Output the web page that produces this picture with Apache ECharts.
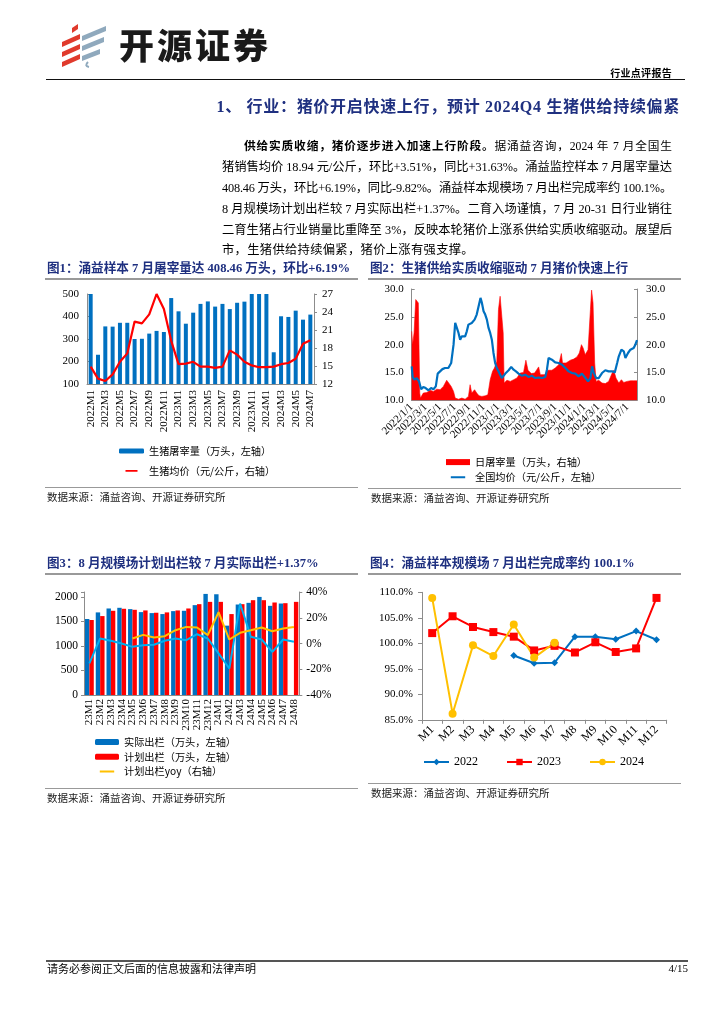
<!DOCTYPE html>
<html><head><meta charset="utf-8">
<script src="https://cdn.jsdelivr.net/npm/echarts@6/dist/echarts.min.js"></script>
<style>
body{margin:0;background:#fff;}
#page{position:relative;width:724px;height:1024px;overflow:hidden;background:#fff;font-family:"Liberation Serif","Noto Sans CJK SC",serif;color:#000;}
#chart{position:absolute;left:0;top:0;width:724px;height:1024px;}
.abs{position:absolute;white-space:nowrap;}
.hl{position:absolute;height:0;}
.ttl{position:absolute;font-size:12.6px;font-weight:bold;color:#1f3080;line-height:16px;white-space:nowrap;font-family:"Liberation Serif","Noto Sans CJK SC",serif;}
.src{position:absolute;font-size:10.5px;line-height:12px;white-space:nowrap;font-family:"Noto Sans CJK SC",sans-serif;color:#222;}
.pl{position:absolute;font-size:12.3px;line-height:20px;white-space:nowrap;font-family:"Liberation Serif","Noto Sans CJK SC",serif;}
.pl > span{display:inline-block;white-space:nowrap;}
.pj{position:absolute;font-size:11.7px;line-height:20px;white-space:nowrap;text-align:justify;text-align-last:justify;font-family:"Liberation Serif","Noto Sans CJK SC",serif;}
</style></head>
<body><div id="page">
<div id="chart"></div>
<svg class="abs" style="left:58px;top:22px" width="56" height="46" viewBox="0 0 56 46">
 <polygon points="4,20 22,12 22,17 4,25" fill="#e03a2c"/>
 <polygon points="4,30 22,22 22,27 4,35" fill="#e03a2c"/>
 <polygon points="4,40 22,32 22,37 4,45" fill="#e03a2c"/>
 <polygon points="14,6 20,2 20,7 14,11" fill="#e03a2c"/>
 <polygon points="24,14 48,4 48,9 24,19" fill="#8fa9bd"/>
 <polygon points="24,24 46,15 46,20 24,29" fill="#8fa9bd"/>
 <polygon points="24,34 42,27 42,32 24,39" fill="#8fa9bd"/>
 <path d="M30,40 Q26,44 31,45" stroke="#8fa9bd" stroke-width="2" fill="none"/>
</svg>
<div class="abs" style="left:119px;top:22px;font-size:35px;font-weight:900;letter-spacing:3px;font-family:'Noto Sans CJK SC',sans-serif;color:#1a1a1a;line-height:44px;">开源证券</div>
<div class="abs" style="right:52px;top:66px;font-size:10px;letter-spacing:0.3px;font-weight:bold;font-family:'Noto Sans CJK SC',sans-serif;line-height:13px;">行业点评报告</div>
<div class="hl" style="left:46px;top:79px;width:639px;border-top:1.6px solid #111;"></div>
<div class="abs" style="right:44px;top:97px;font-size:16px;letter-spacing:0.7px;font-weight:bold;color:#1f3080;line-height:20px;font-family:'Liberation Serif','Noto Sans CJK SC',serif;">1、 行业：猪价开启快速上行，预计 2024Q4 生猪供给持续偏紧</div>

<div class="pj" style="left:244px;top:137px;width:428px;"><b>供给实质收缩，猪价逐步进入加速上行阶段。</b>据涌益咨询，2024 年 7 月全国生</div>
<div class="pl" data-w="450" style="left:222px;top:157px;"><span>猪销售均价 18.94 元/公斤，环比+3.51%，同比+31.63%。涌益监控样本 7 月屠宰量达</span></div>
<div class="pl" data-w="450" style="left:222px;top:178px;"><span>408.46 万头，环比+6.19%，同比-9.82%。涌益样本规模场 7 月出栏完成率约 100.1%。</span></div>
<div class="pl" data-w="450" style="left:222px;top:199px;"><span>8 月规模场计划出栏较 7 月实际出栏+1.37%。二育入场谨慎，7 月 20-31 日行业销往</span></div>
<div class="pl" data-w="450" style="left:222px;top:220px;"><span>二育生猪占行业销量比重降至 3%，反映本轮猪价上涨系供给实质收缩驱动。展望后</span></div>
<div class="pl" style="left:222px;top:240px;"><span style="letter-spacing:0.3px">市，生猪供给持续偏紧，猪价上涨有强支撑。</span></div>

<div class="ttl" style="left:47px;top:260px;">图1：涌益样本 7 月屠宰量达 408.46 万头，环比+6.19%</div>
<div class="hl" style="left:45px;top:278px;width:313px;border-top:2px solid #999;"></div>
<div class="ttl" style="left:370px;top:260px;">图2：生猪供给实质收缩驱动 7 月猪价快速上行</div>
<div class="hl" style="left:368px;top:278px;width:313px;border-top:2px solid #999;"></div>
<div class="hl" style="left:45px;top:487px;width:313px;border-top:1.5px solid #999;"></div>
<div class="src" style="left:47px;top:491px;">数据来源：涌益咨询、开源证券研究所</div>
<div class="hl" style="left:368px;top:488px;width:313px;border-top:1.5px solid #999;"></div>
<div class="src" style="left:371px;top:492px;">数据来源：涌益咨询、开源证券研究所</div>

<div class="ttl" style="left:47px;top:555px;">图3：8 月规模场计划出栏较 7 月实际出栏+1.37%</div>
<div class="hl" style="left:45px;top:573px;width:313px;border-top:2px solid #999;"></div>
<div class="ttl" style="left:370px;top:555px;">图4：涌益样本规模场 7 月出栏完成率约 100.1%</div>
<div class="hl" style="left:368px;top:573px;width:313px;border-top:2px solid #999;"></div>
<div class="hl" style="left:45px;top:788px;width:313px;border-top:1.5px solid #999;"></div>
<div class="src" style="left:47px;top:792px;">数据来源：涌益咨询、开源证券研究所</div>
<div class="hl" style="left:368px;top:783px;width:313px;border-top:1.5px solid #999;"></div>
<div class="src" style="left:371px;top:787px;">数据来源：涌益咨询、开源证券研究所</div>

<div class="hl" style="left:46px;top:960px;width:642px;border-top:2px solid #555;"></div>
<div class="src" style="left:47px;top:962px;font-size:11px;color:#000;">请务必参阅正文后面的信息披露和法律声明</div>
<div class="src" style="right:36px;top:962px;font-size:11px;color:#000;font-family:'Liberation Serif',serif;">4/15</div>
</div>
<script>
// ---------- Chart 1 data ----------
const c1Months = ['2022M1','2022M2','2022M3','2022M4','2022M5','2022M6','2022M7','2022M8','2022M9','2022M10','2022M11','2022M12',
  '2023M1','2023M2','2023M3','2023M4','2023M5','2023M6','2023M7','2023M8','2023M9','2023M10','2023M11','2023M12',
  '2024M1','2024M2','2024M3','2024M4','2024M5','2024M6','2024M7'];
const c1Slaughter = [500,230,356,355,372,372,300,301,324,336,331,482,423,368,417,456,467,444,456,433,461,466,500,500,500,241,401,398,426,386,408.46];
const c1Price = [14.9,12.9,12.5,13.6,15.7,17.1,22.4,22.1,23.6,27.0,24.5,19.2,15.3,15.4,15.7,14.9,14.9,14.7,14.9,17.6,16.9,15.7,15.1,14.8,14.8,14.9,15.3,15.5,16.2,18.7,19.3];

// ---------- Chart 2 data ----------
const c2TickDates = ['2022-01-01','2022-03-01','2022-05-01','2022-07-01','2022-09-01','2022-11-01','2023-01-01','2023-03-01',
  '2023-05-01','2023-07-01','2023-09-01','2023-11-01','2024-01-01','2024-03-01','2024-05-01','2024-07-01'];
const c2Slaughter = [
 ['2022-01-01',22.4],['2022-01-05',20.0],['2022-01-11',22.1],['2022-01-18',28.1],['2022-01-25',28.2],['2022-01-29',27.5],
 ['2022-02-04',11.3],['2022-02-07',10.4],['2022-02-19',11.3],['2022-03-06',11.4],['2022-03-20',11.8],['2022-04-03',11.6],
 ['2022-04-17',12.0],['2022-05-01',11.9],['2022-05-15',12.5],['2022-05-29',13.6],['2022-06-05',13.8],['2022-06-17',12.5],
 ['2022-06-27',11.6],['2022-07-04',10.4],['2022-07-18',10.2],['2022-08-01',10.4],['2022-08-15',10.2],['2022-08-29',10.7],
 ['2022-09-05',12.8],['2022-09-12',11.3],['2022-09-24',11.9],['2022-10-03',11.3],['2022-10-13',10.8],['2022-10-25',10.7],
 ['2022-11-08',10.8],['2022-11-19',11.0],['2022-11-29',13.7],['2022-12-09',15.2],['2022-12-17',15.8],['2022-12-27',17.0],
 ['2023-01-03',26.3],['2023-01-10',28.7],['2023-01-17',28.4],['2023-01-23',22.1],['2023-01-27',13.1],['2023-02-08',13.6],
 ['2023-02-22',13.4],['2023-03-08',13.7],['2023-03-22',14.0],['2023-04-05',14.9],['2023-04-19',15.0],['2023-04-29',17.2],
 ['2023-05-08',15.4],['2023-05-22',14.8],['2023-06-05',14.9],['2023-06-22',16.0],['2023-06-29',14.6],['2023-07-17',14.6],
 ['2023-07-31',15.4],['2023-08-17',15.4],['2023-08-31',15.8],['2023-09-15',16.4],['2023-09-26',18.4],['2023-10-01',16.7],
 ['2023-10-16',16.7],['2023-11-03',17.2],['2023-11-17',17.4],['2023-12-01',17.8],['2023-12-11',18.5],['2023-12-20',20.0],
 ['2023-12-27',19.4],['2024-01-05',18.2],['2024-01-17',19.1],['2024-01-27',26.3],['2024-02-01',29.8],['2024-02-07',27.5],
 ['2024-02-14',16.7],['2024-02-20',13.4],['2024-03-02',13.6],['2024-03-16',13.1],['2024-03-30',13.0],['2024-04-13',13.4],
 ['2024-04-28',14.9],['2024-05-05',15.4],['2024-05-14',14.0],['2024-05-26',13.1],['2024-06-06',13.7],['2024-06-16',13.2],
 ['2024-06-30',13.4],['2024-07-14',13.5],['2024-07-28',13.5],['2024-08-11',13.5]
];
const c2Price = [
 ['2022-01-01',16.1],['2022-01-05',14.2],['2022-01-12',13.7],['2022-01-22',14.0],['2022-02-01',13.4],['2022-02-10',12.0],
 ['2022-02-19',12.4],['2022-03-01',12.2],['2022-03-13',11.8],['2022-03-24',12.2],['2022-04-03',12.0],['2022-04-13',12.5],
 ['2022-04-21',14.8],['2022-05-01',15.2],['2022-05-11',15.6],['2022-05-22',15.8],['2022-06-05',15.8],['2022-06-17',16.7],
 ['2022-06-27',20.0],['2022-07-04',23.9],['2022-07-11',23.0],['2022-07-18',22.1],['2022-07-25',20.9],['2022-08-01',21.5],
 ['2022-08-08',21.2],['2022-08-15',21.5],['2022-08-22',22.4],['2022-08-29',23.6],['2022-09-05',23.4],['2022-09-12',23.9],
 ['2022-09-24',24.5],['2022-10-03',25.4],['2022-10-11',26.9],['2022-10-19',28.4],['2022-10-25',27.5],['2022-11-01',26.0],
 ['2022-11-08',25.4],['2022-11-15',24.5],['2022-11-22',23.0],['2022-11-29',22.1],['2022-12-06',20.9],['2022-12-13',18.5],
 ['2022-12-20',16.7],['2022-12-27',15.8],['2023-01-03',15.2],['2023-01-10',14.9],['2023-01-17',14.0],['2023-01-24',14.3],
 ['2023-02-01',14.8],['2023-02-08',14.6],['2023-02-15',15.4],['2023-02-26',16.0],['2023-03-08',15.5],['2023-03-18',15.2],
 ['2023-03-29',14.8],['2023-04-12',14.4],['2023-04-26',14.6],['2023-05-10',14.2],['2023-05-25',14.4],['2023-06-08',14.0],
 ['2023-06-22',14.1],['2023-07-06',14.0],['2023-07-20',14.2],['2023-07-27',15.5],['2023-08-03',17.6],['2023-08-17',17.3],
 ['2023-08-31',16.8],['2023-09-15',16.7],['2023-09-29',16.4],['2023-10-13',15.8],['2023-10-27',15.2],['2023-11-10',14.9],
 ['2023-11-24',14.8],['2023-12-08',14.3],['2023-12-22',14.8],['2024-01-06',14.0],['2024-01-17',13.4],['2024-01-27',14.0],
 ['2024-02-03',16.1],['2024-02-10',14.9],['2024-02-20',14.0],['2024-03-02',14.0],['2024-03-16',14.9],['2024-03-30',15.4],
 ['2024-04-13',15.2],['2024-04-28',15.2],['2024-05-09',15.0],['2024-05-19',16.7],['2024-05-26',17.9],['2024-06-06',19.1],
 ['2024-06-16',18.8],['2024-06-23',17.6],['2024-07-04',18.5],['2024-07-14',19.1],['2024-07-28',19.4],['2024-08-04',20.0],
 ['2024-08-11',20.8]
];

// ---------- Chart 3 data ----------
const c3Months = ['23M1','23M2','23M3','23M4','23M5','23M6','23M7','23M8','23M9','23M10','23M11','23M12',
  '24M1','24M2','24M3','24M4','24M5','24M6','24M7','24M8'];
const c3Actual = [1549,1684,1764,1778,1751,1690,1670,1650,1710,1717,1832,2061,2054,1414,1845,1879,2000,1818,1865,null];
const c3Plan = [1529,1609,1717,1758,1737,1724,1677,1684,1724,1764,1852,1899,1899,1650,1852,1933,1933,1886,1872,1899];
const c3PlanYoy = [null,null,null,null,3.9,6.7,4.6,5.7,10.3,12.9,12.4,6.5,24.3,3.1,8.3,10.3,12.4,9.5,11.6,12.9];
const c3PlanVsPrev = [-15.5,3.9,2.1,0,-2.6,-1.3,-1.0,2.1,3.9,2.6,7.2,3.9,-7.7,-19.4,31.0,5.2,3.1,-6.5,3.1,1.4];

// ---------- Chart 4 data ----------
const c4Months = ['M1','M2','M3','M4','M5','M6','M7','M8','M9','M10','M11','M12'];
const c4Y2022 = [null,null,null,null,97.6,96.1,96.2,101.3,101.3,100.8,102.4,100.7];
const c4Y2023 = [102.0,105.3,103.2,102.2,101.3,98.6,99.5,98.2,100.2,98.3,99.0,108.9];
const c4Y2024 = [108.9,86.2,99.6,97.5,103.7,97.2,100.1,null,null,null,null,null];

// ---------- paragraph justify (fit each line to its width) ----------
function fitLines() {
  document.querySelectorAll('.pl[data-w]').forEach(el => {
    const sp = el.firstElementChild;
    sp.style.letterSpacing = '0px';
    const w = sp.getBoundingClientRect().width;
    const n = sp.textContent.length;
    const target = parseFloat(el.dataset.w);
    sp.style.letterSpacing = ((target - w) / n) + 'px';
  });
}
fitLines();
if (document.fonts && document.fonts.ready) document.fonts.ready.then(fitLines);
window.addEventListener('load', fitLines);

// ---------- build ----------
const SERIF = "'Liberation Serif','Noto Sans CJK SC',serif";
const CJK = "'Noto Sans CJK SC',sans-serif";
const AX = '#8c8c8c';
const LINE_ICON = 'path://M0,0L0.05,0L0,0.05Z M0,3.2L24,3.2L24,6.8L0,6.8Z M0,10L0.05,10L0,9.95Z';
const toTs = s => echarts.number.parseDate(s).getTime();
const tsPairs = arr => arr.map(p => [toTs(p[0]), p[1]]);
const fmtDate = v => { const d = new Date(v); return d.getFullYear() + '/' + (d.getMonth() + 1) + '/' + d.getDate(); };
const lbl = (size, extra) => Object.assign({color:'#000', fontFamily:SERIF, fontSize:size}, extra || {});
const yLine = {show:true, lineStyle:{color:AX, width:1}};
const c2TickTs = c2TickDates.map(toTs);
const c2LabelsA = c2TickTs.filter((v, i) => i % 2 === 0);
const c2LabelsB = c2TickTs.filter((v, i) => i % 2 === 1);
const c2Min = toTs('2022-01-01'), c2Max = toTs('2024-08-11');
const G2 = {left:411.7, top:289, width:225.3, height:111.3};

const chart = echarts.init(document.getElementById('chart'), null, {renderer:'canvas'});
const option = {
  animation:false,
  backgroundColor:'transparent',
  grid:[
    {left:87, top:294, width:227, height:90},
    G2,
    {left:84, top:592, width:215.3, height:103},
    {left:422, top:592.3, width:244.7, height:127.5},
    Object.assign({}, G2)
  ],
  xAxis:[
    {type:'category', gridIndex:0, data:c1Months, axisLine:{lineStyle:{color:AX}}, axisTick:{show:false},
      axisLabel:lbl(11, {rotate:90, interval:1, margin:6})},
    {type:'value', gridIndex:1, min:c2Min, max:c2Max, splitLine:{show:false},
      axisLine:{lineStyle:{color:AX}},
      axisTick:{show:true, inside:true, length:3, lineStyle:{color:AX}, customValues:c2TickTs},
      axisLabel:lbl(11, {rotate:45, margin:5, customValues:c2LabelsA, formatter:fmtDate, hideOverlap:false,
        showMinLabel:true, showMaxLabel:true})},
    {type:'category', gridIndex:2, data:c3Months, axisLine:{lineStyle:{color:AX}}, axisTick:{show:false},
      axisLabel:lbl(11, {rotate:90, interval:0, margin:4})},
    {type:'category', gridIndex:3, data:c4Months, axisLine:{lineStyle:{color:AX}},
      axisTick:{show:true, length:4, lineStyle:{color:AX}},
      axisLabel:lbl(12, {rotate:45, interval:0, margin:8})},
    {type:'value', gridIndex:4, min:c2Min, max:c2Max, splitLine:{show:false},
      axisLine:{show:false}, axisTick:{show:false},
      axisLabel:lbl(11, {rotate:45, margin:5, customValues:c2LabelsB, formatter:fmtDate, hideOverlap:false,
        showMinLabel:true, showMaxLabel:true})}
  ],
  yAxis:[
    {type:'value', gridIndex:0, min:100, max:500, interval:100, axisLine:yLine, splitLine:{show:false},
      axisTick:{show:true, inside:true, length:3, lineStyle:{color:AX}}, axisLabel:lbl(11, {margin:8})},
    {type:'value', gridIndex:0, position:'right', min:12, max:27, interval:3, axisLine:yLine, splitLine:{show:false},
      axisTick:{show:true, length:3, lineStyle:{color:AX}}, axisLabel:lbl(11, {margin:8})},
    {type:'value', gridIndex:1, min:10, max:30, interval:5, axisLine:yLine, splitLine:{show:false},
      axisTick:{show:true, inside:true, length:3, lineStyle:{color:AX}}, axisLabel:lbl(11, {margin:8, formatter:v => v.toFixed(1)})},
    {type:'value', gridIndex:1, position:'right', min:10, max:30, interval:5, axisLine:yLine, splitLine:{show:false},
      axisTick:{show:true, inside:true, length:3, lineStyle:{color:AX}}, axisLabel:lbl(11, {margin:9, formatter:v => v.toFixed(1)})},
    {type:'value', gridIndex:2, min:0, max:2100, interval:500, axisLine:yLine, splitLine:{show:false},
      axisTick:{show:true, length:3, lineStyle:{color:AX}}, axisLabel:lbl(11.5, {margin:6, formatter:v => v > 2000 ? '' : v})},
    {type:'value', gridIndex:2, position:'right', min:-40, max:40, interval:20, axisLine:yLine, splitLine:{show:false},
      axisTick:{show:true, length:3, lineStyle:{color:AX}}, axisLabel:lbl(11.5, {margin:7, formatter:v => v + '%'})},
    {type:'value', gridIndex:3, min:85, max:110, interval:5, axisLine:yLine, splitLine:{show:false},
      axisTick:{show:true, length:4, lineStyle:{color:AX}}, axisLabel:lbl(11, {margin:9, formatter:v => v.toFixed(1) + '%'})},
    {type:'value', gridIndex:4, min:0, max:1, show:false}
  ],
  legend:[
    {orient:'vertical', left:119, top:446, padding:0, itemWidth:25, itemHeight:5, itemGap:9.5,
      textStyle:{fontFamily:CJK, fontSize:10.2, color:'#000'},
      data:['生猪屠宰量（万头，左轴）', {name:'生猪均价（元/公斤，右轴）', icon:LINE_ICON}]},
    {orient:'vertical', left:446, top:457, padding:0, itemWidth:24, itemHeight:6, itemGap:5,
      textStyle:{fontFamily:CJK, fontSize:10.2, color:'#000'},
      data:[{name:'日屠宰量（万头，右轴）', icon:'rect'}, {name:'全国均价（元/公斤，左轴）', icon:LINE_ICON}]},
    {orient:'vertical', left:95, top:737, padding:0, itemWidth:24, itemHeight:6, itemGap:4.5,
      textStyle:{fontFamily:CJK, fontSize:10.2, color:'#000'},
      data:['实际出栏（万头，左轴）','计划出栏（万头，左轴）', {name:'计划出栏yoy（右轴）', icon:LINE_ICON}]},
    {orient:'horizontal', left:423, top:756, padding:0, itemWidth:25, itemHeight:8, itemGap:28,
      textStyle:{fontFamily:SERIF, fontSize:12, color:'#000'},
      data:['2022','2023','2024']}
  ],
  series:[
    {name:'生猪屠宰量（万头，左轴）', type:'bar', xAxisIndex:0, yAxisIndex:0, data:c1Slaughter, barWidth:4,
      itemStyle:{color:'#0070c0'}},
    {name:'生猪均价（元/公斤，右轴）', type:'line', xAxisIndex:0, yAxisIndex:1, data:c1Price, symbol:'none',
      lineStyle:{color:'#ff0000', width:2.2}, itemStyle:{color:'#ff0000'}, z:5},
    {name:'日屠宰量（万头，右轴）', type:'line', xAxisIndex:1, yAxisIndex:3, data:tsPairs(c2Slaughter), symbol:'none',
      lineStyle:{color:'#ff0000', width:0.6}, itemStyle:{color:'#ff0000'},
      areaStyle:{color:'#ff0000', opacity:1, origin:'start'}, z:2},
    {name:'全国均价（元/公斤，左轴）', type:'line', xAxisIndex:1, yAxisIndex:2, data:tsPairs(c2Price), symbol:'none',
      lineStyle:{color:'#0070c0', width:2.2}, itemStyle:{color:'#0070c0'}, z:5},
    {name:'实际出栏（万头，左轴）', type:'bar', xAxisIndex:2, yAxisIndex:4, data:c3Actual, barWidth:4.4, barGap:'0%',
      itemStyle:{color:'#0070c0'}},
    {name:'计划出栏（万头，左轴）', type:'bar', xAxisIndex:2, yAxisIndex:4, data:c3Plan, barWidth:4.4, barGap:'0%',
      itemStyle:{color:'#ff0000'}},
    {name:'计划出栏较上月实际', type:'line', xAxisIndex:2, yAxisIndex:5, data:c3PlanVsPrev, symbol:'none',
      lineStyle:{color:'#00b0f0', width:2}, itemStyle:{color:'#00b0f0'}, z:5},
    {name:'计划出栏yoy（右轴）', type:'line', xAxisIndex:2, yAxisIndex:5, data:c3PlanYoy, symbol:'none',
      lineStyle:{color:'#ffc000', width:2}, itemStyle:{color:'#ffc000'}, z:6},
    {name:'2022', type:'line', xAxisIndex:3, yAxisIndex:6, data:c4Y2022, symbol:'diamond', symbolSize:7,
      lineStyle:{color:'#0070c0', width:2}, itemStyle:{color:'#0070c0'}},
    {name:'2023', type:'line', xAxisIndex:3, yAxisIndex:6, data:c4Y2023, symbol:'rect', symbolSize:8,
      lineStyle:{color:'#ff0000', width:2}, itemStyle:{color:'#ff0000'}},
    {name:'2024', type:'line', xAxisIndex:3, yAxisIndex:6, data:c4Y2024, symbol:'circle', symbolSize:8,
      lineStyle:{color:'#ffc000', width:2}, itemStyle:{color:'#ffc000'}}
  ]
};
chart.setOption(option);
fitLines();
</script>
</body></html>
